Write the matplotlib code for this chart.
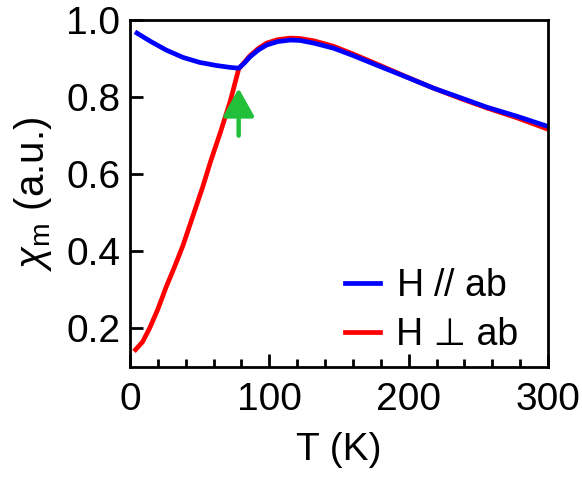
import matplotlib.pyplot as plt

plt.rcParams["font.family"] = ["Liberation Sans", "DejaVu Sans"]
plt.rcParams["mathtext.fontset"] = "custom"
plt.rcParams["mathtext.rm"] = "Liberation Sans"
plt.rcParams["mathtext.it"] = "Liberation Sans:italic"

# H // ab (blue)
T_par = [5, 15, 26, 38, 50, 62, 72, 78, 82, 86, 92, 98, 106, 115, 122, 132, 146, 160, 177, 195, 218, 236, 256, 278, 299]
chi_par = [0.966, 0.944, 0.922, 0.903, 0.890, 0.882, 0.877, 0.875, 0.888, 0.904, 0.922, 0.935, 0.944, 0.948, 0.947, 0.940, 0.927, 0.908, 0.883, 0.857, 0.823, 0.800, 0.774, 0.750, 0.725]

# H ⊥ ab (red)
T_perp = [4, 9, 14, 20, 26, 32, 38, 45, 52, 58, 65, 72, 78, 82, 86, 92, 98, 106, 115, 122, 132, 146, 160, 177, 195, 218, 236, 256, 278, 299]
chi_perp = [0.145, 0.165, 0.200, 0.250, 0.308, 0.360, 0.415, 0.490, 0.565, 0.635, 0.710, 0.790, 0.873, 0.890, 0.907, 0.926, 0.940, 0.949, 0.953, 0.952, 0.946, 0.932, 0.912, 0.886, 0.858, 0.823, 0.798, 0.772, 0.746, 0.718]

fig = plt.figure(figsize=(5.82, 4.80), dpi=100)
ax = fig.add_axes([130 / 582, 1 - 367 / 480, 418 / 582, 347 / 480])

ax.plot(T_perp, chi_perp, color="#ff0000", lw=3.4, label="H ⊥ ab")
ax.plot(T_par, chi_par, color="#0000ff", lw=3.4, label=r"H $\it{//}$ ab")

# arrow marking the transition
ax.annotate("", xy=(78, 0.823), xytext=(78, 0.70),
            arrowprops=dict(arrowstyle="-|>,head_width=0.95,head_length=1.7",
                            color="#22c03a", lw=3.2, shrinkA=0, shrinkB=0,
                            mutation_scale=10))

ax.set_xlim(0, 300)
ax.set_ylim(0.1, 1.0)
ax.set_xticks([0, 100, 200, 300])
ax.set_xticks(range(20, 300, 20), minor=True)
ax.set_yticks([0.2, 0.4, 0.6, 0.8, 1.0])
ax.tick_params(axis="both", which="major", direction="in", length=9.5, width=2, labelsize=28)
ax.tick_params(axis="x", which="major", pad=11)
ax.tick_params(axis="y", which="major", pad=7)
ax.tick_params(axis="x", which="minor", direction="in", length=5.5, width=2)
for s in ax.spines.values():
    s.set_linewidth(2)

ax.set_xlabel("T (K)", fontsize=28, labelpad=10)
ax.set_ylabel(r"$\chi_\mathrm{m}$ (a.u.)", fontsize=29, labelpad=9)

handles, labels = ax.get_legend_handles_labels()
ax.legend(handles[::-1], labels[::-1], loc="lower right", bbox_to_anchor=(0.93, 0.04),
          frameon=False, fontsize=27, handlelength=0.93, handletextpad=0.45,
          labelspacing=0.35, borderpad=0, borderaxespad=0)

plt.savefig("out.png")
